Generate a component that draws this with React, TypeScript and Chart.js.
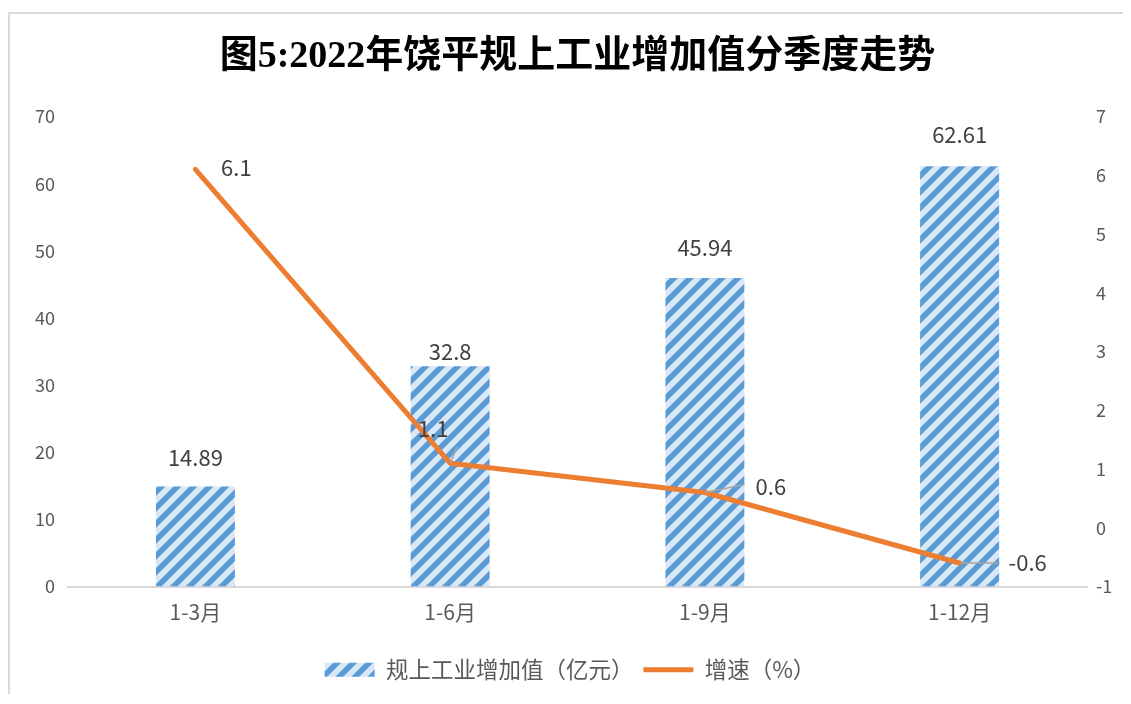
import React, { useEffect, useRef } from 'react';
import { Chart, registerables } from 'chart.js';

Chart.register(...registerables);

const titleText = '图5:2022年饶平规上工业增加值分季度走势';
const categories = ['1-3月', '1-6月', '1-9月', '1-12月'];
const valueAdded = [14.89, 32.8, 45.94, 62.61];
const growthRate = [6.1, 1.1, 0.6, -0.6];
const barSeriesName = '规上工业增加值（亿元）';
const lineSeriesName = '增速（%）';
const leftAxis = { min: 0, max: 70, step: 10 };
const rightAxis = { min: -1, max: 7, step: 1 };

// label placement (styling only)
const barLabelOffsets = [29, 15, 30, 32];
const lineLabelOffsets: [number, number][] = [[41, -2], [-17, -35], [66, -6], [68, 0]];
const leaderEnds: ([number, number] | null)[] = [null, [7, -16], [40, -8], [40, 0]];

const FONT = "'Noto Sans CJK SC', 'Open Sans', sans-serif";
const ORANGE = '#ED7D31';

function makePattern(): CanvasPattern | string {
  const c = document.createElement('canvas');
  const s = 16;
  c.width = s;
  c.height = s;
  const g = c.getContext('2d');
  if (!g) return '#9DC3E6';
  g.fillStyle = '#D9E8F6';
  g.fillRect(0, 0, s, s);
  g.strokeStyle = '#5B9BD5';
  g.lineWidth = 5.5;
  for (const k of [-s, 0, s]) {
    g.beginPath();
    g.moveTo(k - 2, s + 2);
    g.lineTo(k + s + 2, -2);
    g.stroke();
  }
  const p = g.createPattern(c, 'repeat');
  return p || '#9DC3E6';
}

const labelsPlugin = {
  id: 'valueLabels',
  afterDatasetsDraw(chart: any) {
    const ctx = chart.ctx;
    ctx.save();
    ctx.font = `22px ${FONT}`;
    ctx.fillStyle = '#404040';
    ctx.textAlign = 'center';
    ctx.textBaseline = 'middle';
    const barMeta = chart.getDatasetMeta(0);
    barMeta.data.forEach((el: any, i: number) => {
      ctx.fillText(String(valueAdded[i]), el.x, el.y - barLabelOffsets[i]);
    });
    const lineMeta = chart.getDatasetMeta(1);
    lineMeta.data.forEach((el: any, i: number) => {
      const le = leaderEnds[i];
      if (le) {
        ctx.strokeStyle = '#A6A6A6';
        ctx.lineWidth = 1.5;
        ctx.beginPath();
        ctx.moveTo(el.x, el.y);
        ctx.lineTo(el.x + le[0], el.y + le[1]);
        ctx.stroke();
      }
      const [dx, dy] = lineLabelOffsets[i];
      ctx.fillStyle = '#404040';
      ctx.fillText(String(growthRate[i]), el.x + dx, el.y + dy);
    });
    ctx.restore();
  },
};

export default function App() {
  const ref = useRef<HTMLCanvasElement | null>(null);

  useEffect(() => {
    if (!ref.current) return;
    const pattern = makePattern();
    const chart = new Chart(ref.current, {
      type: 'bar',
      data: {
        labels: categories,
        datasets: [
          {
            type: 'bar',
            label: barSeriesName,
            data: valueAdded,
            backgroundColor: pattern as any,
            borderWidth: 0,
            yAxisID: 'y',
            categoryPercentage: 1,
            barPercentage: 0.31,
            order: 1,
          },
          {
            type: 'line',
            label: lineSeriesName,
            data: growthRate,
            borderColor: ORANGE,
            backgroundColor: ORANGE,
            borderWidth: 5,
            pointRadius: 0,
            tension: 0,
            borderJoinStyle: 'round',
            borderCapStyle: 'round',
            yAxisID: 'y1',
            order: 0,
          } as any,
        ],
      },
      options: {
        animation: false,
        responsive: true,
        maintainAspectRatio: false,
        layout: { padding: { bottom: 3, left: 0, right: 0, top: 0 } },
        plugins: {
          tooltip: { enabled: false },
          title: {
            display: true,
            fullSize: false,
            text: titleText,
            color: '#000000',
            font: { size: 38, weight: 'bold', family: "'Liberation Serif', 'Noto Sans CJK SC', serif" },
            padding: { top: 20, bottom: 37 },
          },
          legend: {
            position: 'bottom',
            labels: {
              usePointStyle: true,
              pointStyleWidth: 50,
              boxHeight: 14,
              padding: 10,
              color: '#595959',
              font: { size: 22.5, family: FONT },
              generateLabels: () => [
                {
                  text: barSeriesName,
                  fillStyle: pattern as any,
                  strokeStyle: 'rgba(0,0,0,0)',
                  lineWidth: 0,
                  pointStyle: 'rect',
                  datasetIndex: 0,
                  hidden: false,
                  fontColor: '#595959',
                } as any,
                {
                  text: lineSeriesName,
                  fillStyle: ORANGE,
                  strokeStyle: ORANGE,
                  lineWidth: 5,
                  lineCap: 'butt',
                  pointStyle: 'line',
                  datasetIndex: 1,
                  hidden: false,
                  fontColor: '#595959',
                } as any,
              ],
            },
          },
        },
        scales: {
          x: {
            grid: { display: false, drawTicks: false },
            border: { display: true, color: '#D9D9D9', width: 2 },
            ticks: { color: '#595959', font: { size: 21, family: FONT }, padding: 13.4 },
            afterFit: (s: any) => {
              s.height = 62;
            },
          },
          y: {
            position: 'left',
            min: leftAxis.min,
            max: leftAxis.max,
            grid: { display: false, drawTicks: false },
            border: { display: false },
            ticks: { stepSize: leftAxis.step, color: '#595959', font: { size: 18, family: FONT }, padding: 13 },
            afterFit: (s: any) => {
              s.width = 58;
            },
          },
          y1: {
            position: 'right',
            min: rightAxis.min,
            max: rightAxis.max,
            grid: { display: false, drawTicks: false },
            border: { display: false },
            ticks: { stepSize: rightAxis.step, color: '#595959', font: { size: 18, family: FONT }, padding: 9 },
            afterFit: (s: any) => {
              s.width = 43;
            },
          },
        },
      } as any,
      plugins: [labelsPlugin],
    });
    return () => chart.destroy();
  }, []);

  return (
    <div style={{ paddingTop: 4 }}>
      <div
        style={{
          width: 1120,
          height: 680,
          borderTop: '2px solid #D9D9D9',
          borderLeft: '2px solid #D9D9D9',
          background: '#FFFFFF',
        }}
      >
        <div style={{ position: 'relative', width: 1120, height: 680 }}>
          <canvas ref={ref} />
        </div>
      </div>
    </div>
  );
}
